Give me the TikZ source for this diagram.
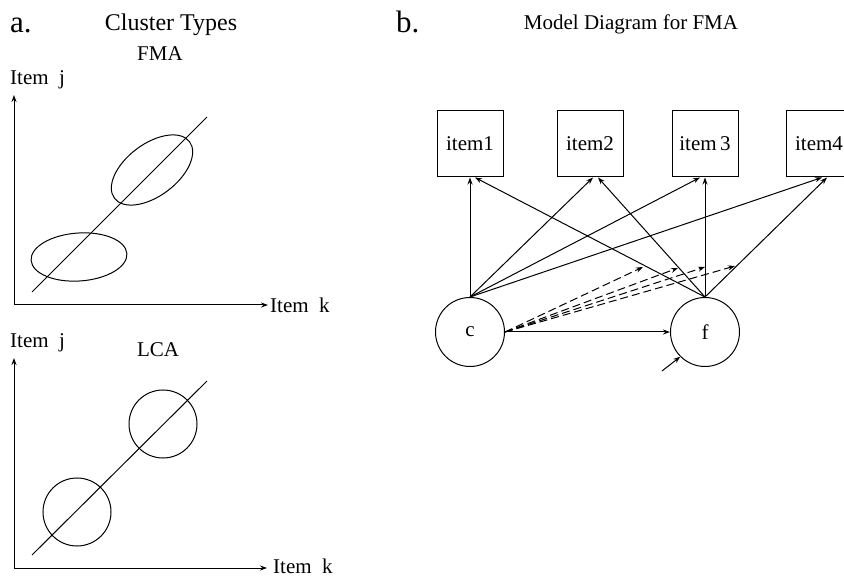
\documentclass[tikz,border=0pt]{standalone}
\usepackage{fontspec}
\setmainfont{Liberation Serif}
\usetikzlibrary{arrows.meta,calc}
\begin{document}
\begin{tikzpicture}[x=1pt,y=-1pt,
  every node/.style={font=\fontsize{21}{25}\selectfont, inner sep=0pt},
  thin line/.style={line width=1pt},
  arr/.style={line width=1pt,-{Stealth[length=7pt,width=5pt]}},
  dasharr/.style={arr, dash pattern=on 8pt off 4pt},
  itembox/.style={draw, line width=1pt, minimum width=66pt, minimum height=66pt},
  latent/.style={draw, circle, line width=1pt, minimum size=69pt},
  panel/.style={font=\fontsize{31}{34}\selectfont}]
\useasboundingbox (0,0) rectangle (844,577);
\clip (0,0) rectangle (844,577);

% ---------- panel a: cluster types ----------
\node[panel, anchor=base west] (la) at (10,33) {a.};
\node[anchor=base, font=\fontsize{24}{28}\selectfont] (title) at (171,31) {Cluster Types};

% FMA scatter
\node[anchor=base] (fma) at (160,61) {FMA};
\node[anchor=base west] (yj1) at (10,85) {Item\enspace j};
\coordinate (o1) at (14,305);
\coordinate (ytop1) at (14,95);
\coordinate (xend1) at (268,305);
\draw[arr] (o1) -- (ytop1);
\draw[arr] (o1) -- (xend1);
\node[anchor=base west] (xk1) at (270,313) {Item\enspace k};
\coordinate (d1a) at (32,292);
\coordinate (d1b) at (207,117);
\draw[thin line] (d1a) -- (d1b);
\draw[thin line, rotate around={37:(152,170)}] (152,170) ellipse [x radius=47pt, y radius=26pt];
\draw[thin line, rotate around={4:(79,257)}] (79,257) ellipse [x radius=48pt, y radius=24pt];

% LCA scatter
\node[anchor=base west] (yj2) at (10,348) {Item\enspace j};
\node[anchor=base] (lca) at (158,357) {LCA};
\coordinate (o2) at (14,568);
\coordinate (ytop2) at (14,358);
\coordinate (xend2) at (267,568);
\draw[arr] (o2) -- (ytop2);
\draw[arr] (o2) -- (xend2);
\node[anchor=base west] (xk2) at (273,573) {Item\enspace k};
\coordinate (d2a) at (32,555);
\coordinate (d2b) at (207,381);
\draw[thin line] (d2a) -- (d2b);
\draw[thin line] (163,424) circle [radius=34pt];
\draw[thin line] (77,512) circle [radius=34pt];

% ---------- panel b: model diagram ----------
\node[panel, anchor=base west] (lb) at (396,33) {b.};
\node[anchor=base] (mtitle) at (631,30) {Model Diagram for FMA};

\node[itembox] (item1) at (470,144) {item1};
\node[itembox] (item2) at (590,144) {item2};
\node[itembox] (item3) at (705,144) {item\,3};
\node[itembox] (item4) at (819,144) {item4};

\node[latent] (c) at (470,332) {c};
\node[latent] (f) at (705,332) {f};

% loadings from the class variable
\draw[arr] (c.north) -- (item1.south);
\draw[arr] (c.north) -- ($(item2.south)+(3,0)$);
\draw[arr] (c.north) -- ($(item3.south)+(-5,0)$);
\draw[arr] (c.north) -- ($(item4.south)+(3,0)$);

% loadings from the factor
\draw[arr] (f.north) -- ($(item1.south)+(5,0)$);
\draw[arr] (f.north) -- ($(item2.south)+(8,0)$);
\draw[arr] (f.north) -- (item3.south);
\draw[arr] (f.north) -- ($(item4.south)+(8,0)$);

% class effect on the factor and residual
\draw[arr] (c.east) -- (f.west);
\coordinate (res) at (662,371);
\draw[arr] (res) -- (f.south west);

% class-specific loadings (dashed)
\coordinate (m1) at (643,267);
\coordinate (m2) at (678,268);
\coordinate (m3) at (705,267);
\coordinate (m4) at (735,266);
\foreach \m in {m1,m2,m3,m4}
  \draw[dasharr] (c.east) -- (\m);
\end{tikzpicture}
\end{document}
